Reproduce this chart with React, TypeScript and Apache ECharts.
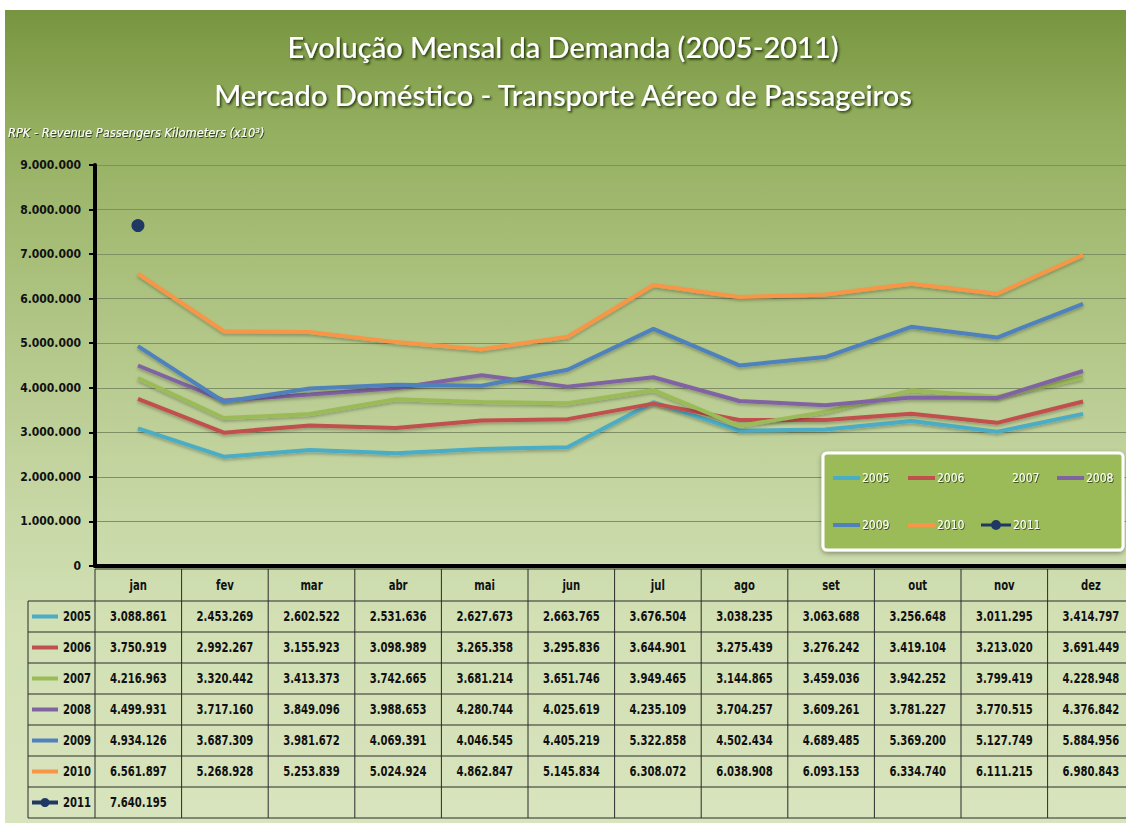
import React, { useEffect, useRef } from "react";
import * as echarts from "echarts";

const months = ["jan", "fev", "mar", "abr", "mai", "jun", "jul", "ago", "set", "out", "nov", "dez"];
const years = ["2005", "2006", "2007", "2008", "2009", "2010", "2011"];
const v2005 = [3088861, 2453269, 2602522, 2531636, 2627673, 2663765, 3676504, 3038235, 3063688, 3256648, 3011295, 3414797];
const v2006 = [3750919, 2992267, 3155923, 3098989, 3265358, 3295836, 3644901, 3275439, 3276242, 3419104, 3213020, 3691449];
const v2007 = [4216963, 3320442, 3413373, 3742665, 3681214, 3651746, 3949465, 3144865, 3459036, 3942252, 3799419, 4228948];
const v2008 = [4499931, 3717160, 3849096, 3988653, 4280744, 4025619, 4235109, 3704257, 3609261, 3781227, 3770515, 4376842];
const v2009 = [4934126, 3687309, 3981672, 4069391, 4046545, 4405219, 5322858, 4502434, 4689485, 5369200, 5127749, 5884956];
const v2010 = [6561897, 5268928, 5253839, 5024924, 4862847, 5145834, 6308072, 6038908, 6093153, 6334740, 6111215, 6980843];
const v2011 = [7640195];
const yTicks = [0, 1000000, 2000000, 3000000, 4000000, 5000000, 6000000, 7000000, 8000000, 9000000];

const colors = ["#4bacc6", "#c0504d", "#9bbb59", "#8064a2", "#4f81bd", "#f79646", "#1f3864"];
const values = [v2005, v2006, v2007, v2008, v2009, v2010, v2011];

const COND = "'DejaVu Sans Condensed', 'Liberation Sans Narrow', 'Roboto', sans-serif";
const fmt = (n: number) => String(n).replace(/\B(?=(\d{3})+(?!\d))/g, ".");
const DOT_ICON = "path://M0 4h30v3H0z M15 0.5a5 5 0 1 1 0 10a5 5 0 1 1 0-10z";

export default function App() {
  const ref = useRef<HTMLDivElement>(null);
  useEffect(() => {
    const chart = echarts.init(ref.current!, null, { renderer: "svg" });
    const GL = 95, GT = 165, GH = 401, COLW = 86.6;
    const TL = 28, HT = 569, RT = 601, RH = 31;
    const TR = GL + COLW * 12;
    const nRows = years.length;
    const TB = RT + RH * nRows;
    const SX = 0.8;

    const g: any[] = [];
    g.push({
      type: "rect", z: 3,
      shape: { x: 823, y: 453, width: 300, height: 97, r: 4 },
      style: { fill: "#9bbb59", stroke: "#ffffff", lineWidth: 3, shadowBlur: 5, shadowColor: "rgba(0,0,0,0.35)", shadowOffsetY: 2 },
    });
    g.push({
      type: "text", x: 8, y: 126, scaleX: 0.98, z: 5,
      style: {
        text: "RPK - Revenue Passengers Kilometers (x10³)", fill: "#ffffff",
        font: `italic 13px 'DejaVu Sans Condensed', sans-serif`,
        textShadowColor: "rgba(40,50,20,0.85)", textShadowBlur: 1, textShadowOffsetX: 1, textShadowOffsetY: 1,
      },
    });
    const lineStyle = { stroke: "#2b2b2b", lineWidth: 1 };
    g.push({ type: "line", shape: { x1: GL, y1: HT, x2: TR, y2: HT }, style: lineStyle });
    for (let r = 0; r <= nRows; r++) {
      const y = RT + r * RH;
      g.push({ type: "line", shape: { x1: TL, y1: y, x2: TR, y2: y }, style: lineStyle });
    }
    g.push({ type: "line", shape: { x1: TL, y1: RT, x2: TL, y2: TB }, style: lineStyle });
    for (let c = 0; c <= 12; c++) {
      const x = GL + c * COLW;
      g.push({ type: "line", shape: { x1: x, y1: HT, x2: x, y2: TB }, style: lineStyle });
    }
    const cellFont = `bold 14px ${COND}`;
    const cellText = (text: string, x: number, y: number, align: string) => ({
      type: "text", x, y, scaleX: SX,
      style: { text, fill: "#111", font: cellFont, align, verticalAlign: "middle" },
    });
    months.forEach((m, c) => {
      g.push(cellText(m, GL + COLW * (c + 0.5), (HT + RT) / 2, "center"));
    });
    years.forEach((yr, r) => {
      const cy = RT + RH * (r + 0.5);
      g.push({ type: "line", shape: { x1: 32, y1: cy, x2: 58, y2: cy }, style: { stroke: colors[r], lineWidth: 4 } });
      if (yr === "2011") {
        g.push({ type: "circle", shape: { cx: 45, cy, r: 4.5 }, style: { fill: colors[r] } });
      }
      g.push(cellText(yr, 91, cy, "right"));
      values[r].forEach((v, c) => {
        g.push(cellText(fmt(v), GL + COLW * (c + 0.5), cy, "center"));
      });
    });

    const legendPos = [
      [833, 479], [908, 479], [983, 479], [1057, 479],
      [833, 526], [908, 526], [981, 526],
    ];

    const titleStyle = {
      color: "#fff", fontSize: 29, fontWeight: 500, fontFamily: "Lato, 'Noto Sans', sans-serif",
      textShadowColor: "rgba(25,35,5,0.9)", textShadowBlur: 2, textShadowOffsetX: 1.5, textShadowOffsetY: 1.5,
    };

    chart.setOption({
      animation: false,
      title: [
        { text: "Evolução Mensal da Demanda (2005-2011)", left: "center", top: 27, textStyle: titleStyle },
        { text: "Mercado Doméstico - Transporte Aéreo de Passageiros", left: "center", top: 75, textStyle: titleStyle },
      ],
      legend: years.map((yr, i) => {
        const isDot = yr === "2011";
        return {
          data: [{ name: yr, icon: isDot ? DOT_ICON : "rect" }],
          left: legendPos[i][0], top: legendPos[i][1] - 7, padding: 0,
          itemWidth: isDot ? 30 : 27, itemHeight: isDot ? 11 : 4, itemGap: 0,
          textStyle: { color: "#fff", fontSize: 12, fontFamily: COND, padding: [0, 0, 0, -3],
            textShadowColor: "rgba(30,40,10,0.7)", textShadowBlur: 1, textShadowOffsetX: 1, textShadowOffsetY: 1 },
          z: 5,
        };
      }),
      grid: { left: GL, top: GT, height: GH, width: COLW * 12 },
      xAxis: {
        type: "category", data: months, boundaryGap: true,
        axisLine: { show: true, lineStyle: { color: "#000", width: 4 } },
        axisTick: { show: false }, axisLabel: { show: false }, splitLine: { show: false },
      },
      yAxis: {
        type: "value", min: yTicks[0], max: yTicks[yTicks.length - 1], interval: yTicks[1] - yTicks[0],
        axisLine: { show: true, lineStyle: { color: "#000", width: 4 } },
        axisTick: { show: true, length: 6, lineStyle: { color: "#000", width: 2 } },
        axisLabel: { margin: 14, color: "#111", fontWeight: "bold", fontSize: 12, fontFamily: COND, formatter: (v: number) => fmt(v) },
        splitLine: { show: true, lineStyle: { color: "#7f8f66", width: 1 } },
      },
      series: years.map((yr, i) => {
        const isDot = yr === "2011";
        const data = months.map((_, c) => (values[i][c] !== undefined ? values[i][c] : null));
        return {
          name: yr, type: "line", data,
          symbol: isDot ? "circle" : "none", symbolSize: isDot ? 13 : 0,
          showSymbol: isDot,
          color: colors[i],
          itemStyle: { color: colors[i] },
          lineStyle: { color: colors[i], width: 4, shadowBlur: 3, shadowColor: "rgba(0,0,0,0.25)", shadowOffsetY: 2 },
          z: 2 + i * 0.01,
        };
      }),
      graphic: g,
    });
    return () => chart.dispose();
  }, []);

  return (
    <div style={{ position: "fixed", left: 0, top: 0, width: 1126, height: 823, background: "#fff", overflow: "hidden" }}>
      <div style={{ position: "absolute", left: 5, top: 10, width: 1121, height: 813,
        background: "linear-gradient(to bottom, #779540 0%, #93ae5e 14%, #a7be78 30%, #c2d39e 55%, #d2e0b4 75%, #d8e4bd 100%)" }} />
      <div ref={ref} style={{ position: "absolute", left: 0, top: 0, width: 1126, height: 823 }} />
    </div>
  );
}
